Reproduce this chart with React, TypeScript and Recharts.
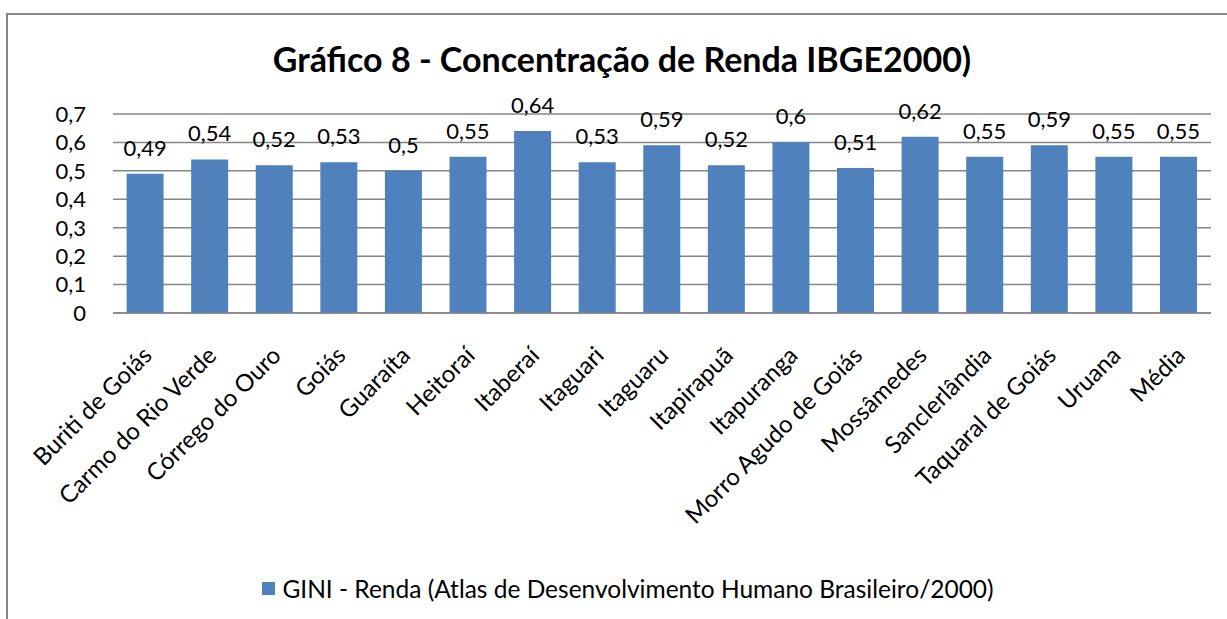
import React from 'react';
import { BarChart, Bar, XAxis, YAxis, CartesianGrid, LabelList } from 'recharts';

const categories = [
  'Buriti de Goiás', 'Carmo do Rio Verde', 'Córrego do Ouro', 'Goiás', 'Guaraíta', 'Heitoraí',
  'Itaberaí', 'Itaguari', 'Itaguaru', 'Itapirapuã', 'Itapuranga', 'Morro Agudo de Goiás',
  'Mossâmedes', 'Sanclerlândia', 'Taquaral de Goiás', 'Uruana', 'Média',
];
const giniValues = [0.49, 0.54, 0.52, 0.53, 0.5, 0.55, 0.64, 0.53, 0.59, 0.52, 0.6, 0.51, 0.62, 0.55, 0.59, 0.55, 0.55];
const yTicks = [0, 0.1, 0.2, 0.3, 0.4, 0.5, 0.6, 0.7];
const seriesName = 'GINI - Renda (Atlas de Desenvolvimento Humano Brasileiro/2000)';
const title = 'Gráfico 8 - Concentração de Renda IBGE2000)';

const data = categories.map((c, i) => ({ name: c, gini: giniValues[i] }));

const FONT = 'Lato, "Open Sans", sans-serif';
const fmt = (v: number) => String(v).replace('.', ',');

const CatTick = (props: any) => {
  const { x, y, payload } = props;
  const ax = x + 8;
  const ay = y + 36;
  return (
    <text
      x={ax}
      y={ay}
      transform={`rotate(-45, ${ax}, ${ay})`}
      textAnchor="end"
      fontFamily={FONT}
      fontSize={24}
      fill="#000"
    >
      {payload.value}
    </text>
  );
};

export default function App() {
  return (
    <div style={{ position: 'fixed', left: 0, top: 0, width: 1227, height: 619, overflow: 'hidden', background: '#fff' }}>
      <div style={{ position: 'absolute', left: 6, top: 13, width: 1260, height: 660, border: '2px solid #868686', boxSizing: 'border-box' }} />
      <div style={{ position: 'absolute', left: 0, top: 38, width: 1244, textAlign: 'center', fontFamily: FONT, fontWeight: 700, fontSize: 34, color: '#000' }}>
        {title}
      </div>
      <div style={{ position: 'absolute', left: 0, top: 0 }}>
        <BarChart width={1227} height={619} data={data} margin={{ top: 114, right: 16, bottom: 106, left: 53 }} barCategoryGap="21%">
          <CartesianGrid vertical={false} stroke="#868686" strokeWidth={1.5} />
          <XAxis dataKey="name" interval={0} height={200} tick={<CatTick />} tickLine={false} axisLine={{ stroke: '#868686', strokeWidth: 1.5 }} />
          <YAxis
            width={60}
            domain={[0, 0.7]}
            ticks={yTicks}
            interval={0}
            tickFormatter={(v: number) => fmt(Math.round(v * 10) / 10)}
            axisLine={false}
            tickLine={false}
            tickSize={0}
            tickMargin={27}
            tick={{ fontFamily: FONT, fontSize: 22, fill: '#000' }}
          />
          <Bar dataKey="gini" name={seriesName} fill="#4F81BD" isAnimationActive={false}>
            <LabelList dataKey="gini" position="top" offset={18} formatter={(v: number) => fmt(v)} style={{ fontFamily: FONT, fontSize: 22, fill: '#000' }} />
          </Bar>
        </BarChart>
      </div>
      <div style={{ position: 'absolute', left: 0, top: 574, width: 1256, display: 'flex', alignItems: 'center', justifyContent: 'center', fontFamily: FONT, fontSize: 24.5, color: '#000' }}>
        <span style={{ display: 'inline-block', width: 13, height: 13, background: '#4F81BD', marginRight: 7 }} />
        <span>{seriesName}</span>
      </div>
    </div>
  );
}
